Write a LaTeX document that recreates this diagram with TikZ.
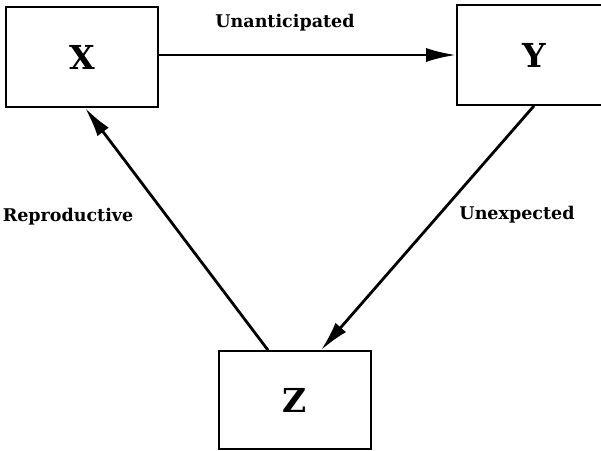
\documentclass[tikz,border=0pt]{standalone}
\usepackage{fontspec}
\newfontfamily\lblfont{DejaVu Serif}
\usetikzlibrary{arrows.meta, positioning}

\begin{document}
\begin{tikzpicture}[x=1pt, y=-1pt,
		box/.style={draw, line width=1.7pt, minimum width=152pt, minimum height=100pt, font=\lblfont\bfseries\fontsize{33}{36}\selectfont},
		link/.style={line width=2.8pt, -{Latex[length=30pt,width=14pt]}},
		lbl/.style={font=\lblfont\bfseries\fontsize{17.5}{19}\selectfont}]
		\clip (0,0) rectangle (601,450);
		\node[box] (x) at (82,57) {X};
		\node[box, minimum width=154pt] (y) at (534,55) {Y};
		\node[box, minimum height=98pt] (z) at (295,400) {Z};
		\draw[link] (x.east |- y) -- (y.west);
		\draw[link] (y.south) -- ([xshift=26pt]z.north);
		\draw[link] ([xshift=-27pt]z.north) -- ([xshift=3pt]x.south);
		\node[lbl] (unant) at (285,23) {Unanticipated};
		\node[lbl] (repro) at (68,217) {Reproductive};
		\node[lbl] (unexp) at (517,215) {Unexpected};
	\end{tikzpicture}
\end{document}
